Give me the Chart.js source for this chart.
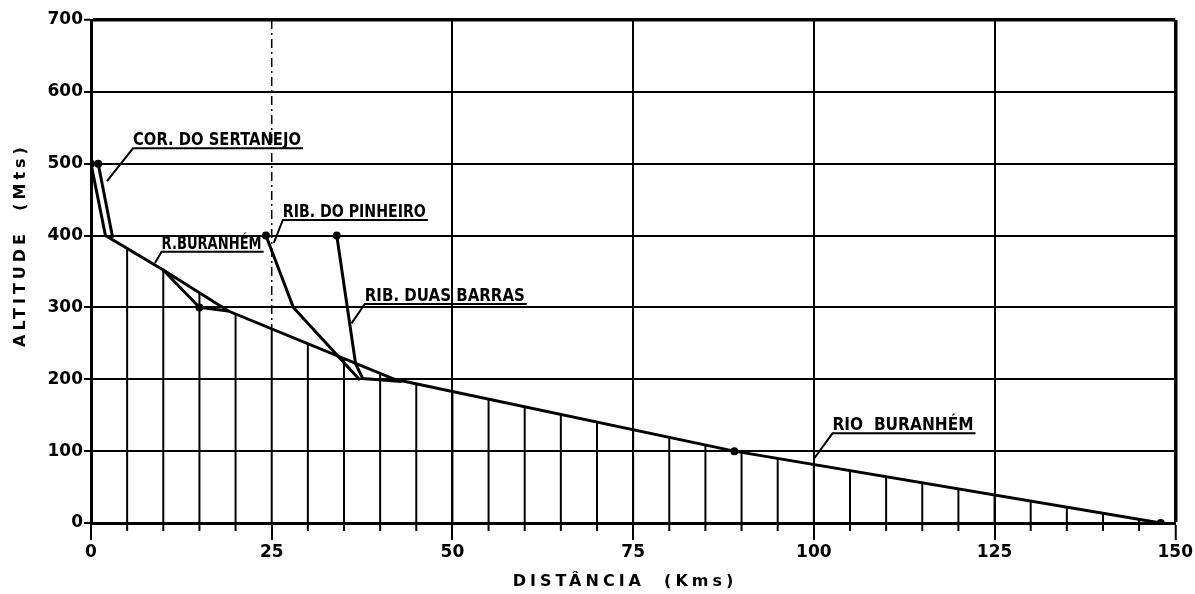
<!DOCTYPE html>
<html>
<head>
<meta charset="utf-8">
<script src="https://cdn.jsdelivr.net/npm/chart.js@4/dist/chart.umd.min.js"></script>
<style>
  body { margin: 0; background: #fff; }
  #wrap { width: 1195px; height: 594px; position: relative; }
</style>
</head>
<body>
<div id="wrap"><canvas id="chart-area"></canvas></div>
<script>
// perfil do Rio Buranhém e afluentes (distância em km, altitude em m)
var rioDist = [0, 2, 10, 19, 42, 89, 148];
var rioAlt = [500, 400, 352, 295, 200, 100, 0];

var rioRamoDist = [10, 15, 19];
var rioRamoAlt = [352, 300, 295];

var sertanejoDist = [1, 3];
var sertanejoAlt = [500, 397];

var pinheiroDist = [24.2, 28, 37.2];
var pinheiroAlt = [400, 300, 199];

var duasBarrasDist = [34, 36.6, 37.6, 43];
var duasBarrasAlt = [400, 222, 201, 197];

var xTicks = [0, 25, 50, 75, 100, 125, 150];
var yTicks = [0, 100, 200, 300, 400, 500, 600, 700];

function pts(xs, ys) {
    var out = [];
    for (var i = 0; i < xs.length; i++) out.push({ x: xs[i], y: ys[i] });
    return out;
}

// altitude do rio principal numa distância qualquer (para as linhas verticais)
function profileAt(km) {
    for (var i = 0; i < rioDist.length - 1; i++) {
        if (km >= rioDist[i] && km <= rioDist[i + 1]) {
            var t = (km - rioDist[i]) / (rioDist[i + 1] - rioDist[i]);
            return rioAlt[i] + t * (rioAlt[i + 1] - rioAlt[i]);
        }
    }
    return 0;
}

var labelDefs = [
    { text: 'COR. DO SERTANEJO', at: [5.81, 521.5], to: [2.21, 475.9], width: 168 },
    { text: 'R.BURANHÉM', at: [9.77, 377.6], to: [8.85, 361.8], width: 100 },
    { text: 'RIB. DO PINHEIRO', at: [26.54, 421.7], to: [25.3, 389.7], width: 143 },
    { text: 'RIB. DUAS BARRAS', at: [37.88, 304.8], to: [36.04, 277.9], width: 160 },
    { text: 'RIO  BURANHÉM', at: [102.58, 124.8], to: [100.09, 90.5], width: 141 }
];

function fittedText(ctx, text, x, y, width) {
    ctx.save();
    ctx.font = 'bold 17px "DejaVu Sans"';
    var w = ctx.measureText(text).width;
    ctx.translate(x, y);
    ctx.scale(width / w, 1);
    ctx.textAlign = 'left';
    ctx.textBaseline = 'alphabetic';
    ctx.fillText(text, 0, 0);
    ctx.restore();
}

var profilePlugin = {
    id: 'profile',
    beforeDatasetsDraw: function (chart) {
        var ctx = chart.ctx, x = chart.scales.x, y = chart.scales.y;
        var y0 = y.getPixelForValue(0);
        ctx.save();
        ctx.strokeStyle = '#000';
        ctx.lineWidth = 2;
        for (var km = 5; km < 150; km += 5) {
            var px = x.getPixelForValue(km);
            var top = y.getPixelForValue(profileAt(km));
            ctx.beginPath();
            ctx.moveTo(px, y0 + (km % 25 ? 8 : 0));
            ctx.lineTo(px, top);
            ctx.stroke();
        }
        // linha de 25 km tracejada acima do perfil
        var p25 = x.getPixelForValue(25);
        ctx.lineWidth = 1.5;
        ctx.setLineDash([9, 4, 2, 4]);
        ctx.beginPath();
        ctx.moveTo(p25, y.getPixelForValue(700));
        ctx.lineTo(p25, y.getPixelForValue(profileAt(25)));
        ctx.stroke();
        ctx.restore();
    },
    afterDatasetsDraw: function (chart) {
        var ctx = chart.ctx, x = chart.scales.x, y = chart.scales.y;
        ctx.save();
        ctx.fillStyle = '#000';
        ctx.strokeStyle = '#000';
        ctx.lineWidth = 2;
        labelDefs.forEach(function (l) {
            var ax = x.getPixelForValue(l.at[0]);
            var ay = y.getPixelForValue(l.at[1]);
            var tx = x.getPixelForValue(l.to[0]);
            var ty = y.getPixelForValue(l.to[1]);
            fittedText(ctx, l.text, ax, ay - 3, l.width);
            ctx.beginPath();
            ctx.moveTo(tx, ty);
            ctx.lineTo(ax, ay);
            ctx.lineTo(ax + l.width + 2, ay);
            ctx.stroke();
        });
        // títulos dos eixos
        ctx.font = 'bold 16px "DejaVu Sans"';
        ctx.letterSpacing = '4px';
        ctx.textAlign = 'center';
        ctx.textBaseline = 'middle';
        ctx.fillText('DISTÂNCIA  (Kms)', 625, 582);
        ctx.translate(21, 245);
        ctx.rotate(-Math.PI / 2);
        ctx.fillText('ALTITUDE  (Mts)', 0, 0);
        ctx.restore();
    }
};

function lineSet(data, dots) {
    return {
        data: data,
        showLine: true,
        borderColor: '#000',
        backgroundColor: '#000',
        borderWidth: 3,
        pointRadius: function (c) { return dots.indexOf(c.dataIndex) >= 0 ? 2.5 : 0; },
        pointHoverRadius: 0,
        tension: 0
    };
}

var config = {
    type: 'scatter',
    data: {
        datasets: [
            lineSet(pts(rioDist, rioAlt), [0, 5, 6]),
            lineSet(pts(rioRamoDist, rioRamoAlt), [1]),
            lineSet(pts(sertanejoDist, sertanejoAlt), [0]),
            lineSet(pts(pinheiroDist, pinheiroAlt), [0]),
            lineSet(pts(duasBarrasDist, duasBarrasAlt), [0])
        ]
    },
    options: {
        responsive: true,
        maintainAspectRatio: false,
        animation: false,
        layout: { padding: { top: 20, right: 19, left: 0, bottom: 0 } },
        plugins: { legend: { display: false }, tooltip: { enabled: false } },
        scales: {
            x: {
                type: 'linear',
                min: 0,
                max: 150,
                afterBuildTicks: function (s) { s.ticks = xTicks.map(function (v) { return { value: v }; }); },
                afterFit: function (s) { s.height = 71; },
                ticks: { color: '#000', font: { family: 'DejaVu Sans', size: 17, weight: 'bold' }, padding: 2, maxRotation: 0 },
                grid: {
                    color: function (c) { return c.tick && c.tick.value === 25 ? 'rgba(0,0,0,0)' : '#000'; },
                    lineWidth: function (c) { return c.tick && c.tick.value === 150 ? 3.5 : 2; },
                    tickLength: 17,
                    tickColor: '#000',
                    tickWidth: 2
                },
                border: { color: '#000', width: 3 }
            },
            y: {
                min: 0,
                max: 700,
                afterBuildTicks: function (s) { s.ticks = yTicks.map(function (v) { return { value: v }; }); },
                afterFit: function (s) { s.width = 91; },
                ticks: { color: '#000', font: { family: 'DejaVu Sans', size: 17, weight: 'bold' }, padding: 1 },
                grid: {
                    color: '#000',
                    lineWidth: function (c) { return c.tick && c.tick.value === 700 ? 3.5 : 2; },
                    tickLength: 7,
                    tickColor: '#000',
                    tickWidth: 2
                },
                border: { color: '#000', width: 3 }
            }
        }
    },
    plugins: [profilePlugin]
};

var ctx = document.getElementById('chart-area').getContext('2d');
window.myProfile = new Chart(ctx, config);
</script>
</body>
</html>
